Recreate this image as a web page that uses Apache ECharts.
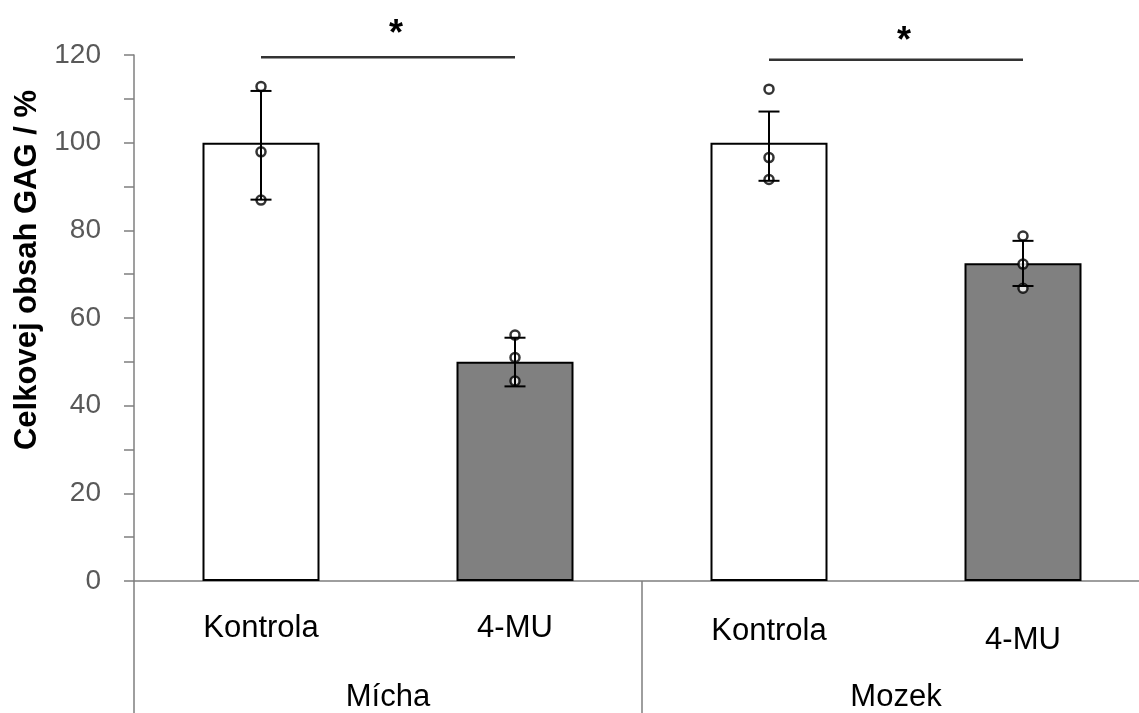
<!DOCTYPE html>
<html>
<head>
<meta charset="utf-8">
<script src="https://cdn.jsdelivr.net/npm/echarts@6/dist/echarts.min.js"></script>
<style>
html,body{margin:0;padding:0;background:#fff;}
#chart{width:1139px;height:713px;}
</style>
</head>
<body>
<div id="chart"></div>
<script>
// ---- data ----
const categories = ['Kontrola', '4-MU', 'Kontrola', '4-MU'];
const groups = ['Mícha', 'Mozek'];
const means = [100, 50, 100, 72.5];
const errHigh = [111.8, 55.5, 107.1, 77.6];
const errLow = [87.0, 44.4, 91.3, 67.3];
const replicate1 = [112.8, 56.1, 112.2, 78.7];
const replicate2 = [97.9, 51.0, 96.6, 72.3];
const replicate3 = [86.9, 45.6, 91.6, 66.8];
const sigFrom = [0, 2];
const sigTo = [1, 3];
const sigLevel = [119.5, 118.9];
const sigStarLevel = [126.2, 124.6];
const sigMark = ['*', '*'];
const yMin = 0, yMax = 120, yTickStep = 10, yLabelStep = 20;
const yAxisTitle = 'Celkovej obsah GAG / %';

// ---- chart ----
const FONT = '"Liberation Sans", Arial, sans-serif';
const chart = echarts.init(document.getElementById('chart'), null, {renderer: 'canvas'});

const errData = categories.map((c, i) => [i, errLow[i], errHigh[i]]);
const pointData = [];
categories.forEach((c, i) => {
  pointData.push([i, replicate1[i]], [i, replicate2[i]], [i, replicate3[i]]);
});
const sigData = sigFrom.map((f, i) => [f, sigTo[i], sigLevel[i], sigStarLevel[i], sigMark[i]]);

const option = {
  animation: false,
  backgroundColor: '#ffffff',
  grid: {left: 134, top: 55, width: 1016, height: 526, containLabel: false, outerBoundsMode: 'none'},
  xAxis: [
    {
      type: 'category',
      data: categories,
      position: 'bottom',
      axisLine: {show: true, lineStyle: {color: '#7f7f7f', width: 1.5}},
      axisTick: {show: false},
      axisLabel: {
        interval: 0,
        margin: 32,
        color: '#000',
        fontFamily: FONT,
        fontSize: 31,
        formatter: (v, i) => i === 3 ? '{low|' + v + '}' : (i === 2 ? '{mid|' + v + '}' : '{n|' + v + '}'),
        rich: {
          n: {fontFamily: FONT, fontSize: 31, color: '#000'},
          mid: {fontFamily: FONT, fontSize: 31, color: '#000', padding: [3, 0, 0, 0]},
          low: {fontFamily: FONT, fontSize: 31, color: '#000', padding: [12, 0, 0, 0]}
        }
      },
      splitLine: {show: false}
    },
    {
      type: 'category',
      data: groups,
      position: 'bottom',
      boundaryGap: true,
      axisLine: {show: false},
      axisTick: {show: true, interval: 0, length: 135, lineStyle: {color: '#7f7f7f', width: 1.5}},
      axisLabel: {interval: 0, margin: 101, color: '#000', fontFamily: FONT, fontSize: 31},
      splitLine: {show: false}
    }
  ],
  yAxis: {
    type: 'value',
    min: yMin,
    max: yMax,
    interval: yTickStep,
    name: yAxisTitle,
    nameLocation: 'middle',
    nameGap: 88,
    nameRotate: 90,
    nameTextStyle: {fontFamily: FONT, fontSize: 31, fontWeight: 'bold', color: '#000', padding: [0, 0, 0, 96]},
    axisLine: {show: true, lineStyle: {color: '#7f7f7f', width: 1.5}},
    axisTick: {show: true, length: 10, lineStyle: {color: '#7f7f7f', width: 1.5}},
    axisLabel: {
      margin: 33,
      color: '#595959',
      fontFamily: FONT,
      fontSize: 28,
      formatter: v => (v % yLabelStep === 0 ? String(v) : '')
    },
    splitLine: {show: false}
  },
  series: [
    {
      type: 'bar',
      data: means,
      barWidth: 117,
      itemStyle: {
        color: p => (p.name === '4-MU' ? '#808080' : '#ffffff'),
        borderColor: '#000',
        borderWidth: 2
      },
      z: 2
    },
    {
      type: 'scatter',
      data: pointData,
      symbol: 'circle',
      symbolSize: 9,
      itemStyle: {color: '#ffffff', borderColor: '#000', borderWidth: 2.5},
      z: 4
    },
    {
      type: 'custom',
      data: errData,
      z: 5,
      renderItem: (params, api) => {
        const top = api.coord([api.value(0), api.value(2)]);
        const bot = api.coord([api.value(0), api.value(1)]);
        const hw = 10.5;
        const st = {stroke: '#000', lineWidth: 2};
        return {
          type: 'group',
          children: [
            {type: 'line', shape: {x1: top[0], y1: top[1], x2: bot[0], y2: bot[1]}, style: st},
            {type: 'line', shape: {x1: top[0] - hw, y1: top[1], x2: top[0] + hw, y2: top[1]}, style: st},
            {type: 'line', shape: {x1: bot[0] - hw, y1: bot[1], x2: bot[0] + hw, y2: bot[1]}, style: st}
          ]
        };
      }
    },
    {
      type: 'custom',
      data: sigData,
      z: 5,
      clip: false,
      renderItem: (params, api) => {
        const a = api.coord([api.value(0), api.value(2)]);
        const b = api.coord([api.value(1), api.value(2)]);
        const s = api.coord([api.value(0), api.value(3)]);
        const mx = (a[0] + b[0]) / 2 + 8;
        return {
          type: 'group',
          children: [
            {type: 'line', shape: {x1: a[0], y1: a[1], x2: b[0], y2: b[1]}, style: {stroke: '#333333', lineWidth: 2.5}},
            {type: 'text', x: mx, y: s[1] + 7, style: {text: sigData[params.dataIndex][4], fontFamily: FONT, fontSize: 36, fontWeight: 'bold', fill: '#000', align: 'center', verticalAlign: 'middle'}}
          ]
        };
      }
    }
  ]
};
chart.setOption(option);
</script>
</body>
</html>
